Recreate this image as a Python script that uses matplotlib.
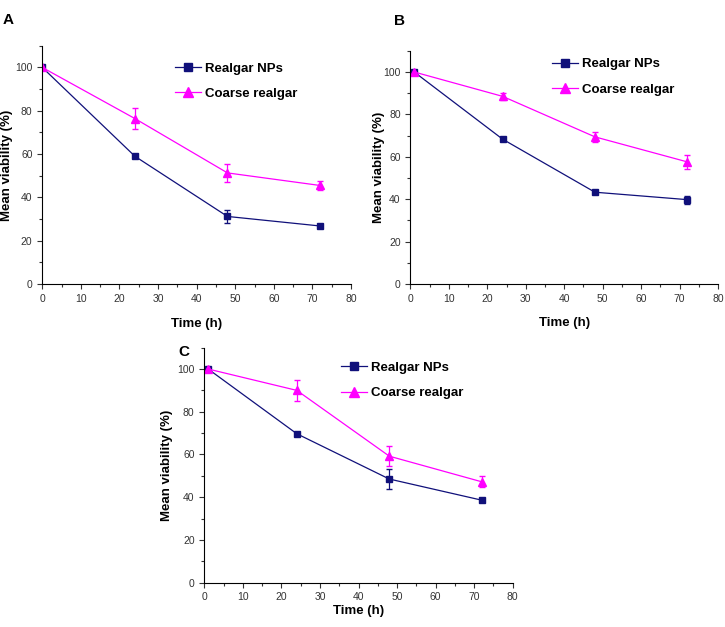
import numpy as np
import matplotlib
matplotlib.use('Agg')
import matplotlib.pyplot as plt
from matplotlib.ticker import MultipleLocator

plt.rcParams['font.family'] = ['Liberation Sans', 'DejaVu Sans']

# panel A
time_a = [0, 24, 48, 72]
nps_a = [100, 59, 31.2, 26.8]
nps_a_err = [0, 0.8, 3.1, 0.6]
coarse_a = [100, 76.4, 51.3, 45.5]
coarse_a_err = [0, 4.8, 4.3, 2.0]

# panel B
time_b = [1, 24, 48, 72]
nps_b = [100, 68.3, 43.3, 39.8]
nps_b_err = [0, 0.6, 0.6, 1.9]
coarse_b = [100, 88.5, 69.4, 57.6]
coarse_b_err = [0, 1.6, 2.5, 3.4]

# panel C
time_c = [1, 24, 48, 72]
nps_c = [100, 69.7, 48.5, 38.6]
nps_c_err = [0, 0.5, 4.7, 0.5]
coarse_c = [100, 90.0, 59.2, 47.2]
coarse_c_err = [0, 4.8, 4.6, 2.6]

navy = '#10107a'
magenta = '#ff00ff'

fig = plt.figure(figsize=(7.25, 6.27), dpi=100)

# letter, axes rect, data, legend anchor, letter pos, xlabel y, ylabel x
panels = [
    ('A', [0.0583, 0.547, 0.4258, 0.380], time_a, nps_a, nps_a_err, coarse_a, coarse_a_err,
     (0.43, 0.93), (0.003, 0.979), -0.143, -0.095),
    ('B', [0.566, 0.547, 0.4244, 0.372], time_b, nps_b, nps_b_err, coarse_b, coarse_b_err,
     (0.46, 0.969), (0.543, 0.977), -0.143, -0.084),
    ('C', [0.2818, 0.0707, 0.4254, 0.3748], time_c, nps_c, nps_c_err, coarse_c, coarse_c_err,
     (0.442, 0.94), (0.246, 0.4498), -0.095, -0.103),
]

for letter, rect, t, n, ne, c, ce, leg_xy, let_xy, xl_y, yl_x in panels:
    ax = fig.add_axes(rect)
    ax.errorbar(t, n, yerr=ne, fmt='none', ecolor=navy, capsize=2.5, elinewidth=0.9)
    ax.errorbar(t, c, yerr=ce, fmt='none', ecolor=magenta, capsize=2.5, elinewidth=0.9)
    ax.plot(t, n, color=navy, marker='s', markersize=4.8, lw=0.9, label='Realgar NPs')
    ax.plot(t, c, color=magenta, marker='^', markersize=5.8, lw=0.9, label='Coarse realgar')
    ax.set_xlim(0, 80)
    ax.set_ylim(0, 110)
    ax.set_xticks(np.arange(0, 81, 10))
    ax.set_yticks(np.arange(0, 101, 20))
    ax.xaxis.set_minor_locator(MultipleLocator(5))
    ax.yaxis.set_minor_locator(MultipleLocator(10))
    ax.spines['top'].set_visible(False)
    ax.spines['right'].set_visible(False)
    ax.tick_params(which='major', length=3.5, width=0.8, labelsize=7.5, colors='#333333', labelcolor='#333333')
    ax.tick_params(which='minor', length=2, width=0.8, colors='#333333')
    ax.set_xlabel('Time (h)', fontsize=9.5, fontweight='bold')
    ax.set_ylabel('Mean viability (%)', fontsize=9.5, fontweight='bold')
    ax.xaxis.set_label_coords(0.5, xl_y)
    ax.yaxis.set_label_coords(yl_x, 0.5)
    ax.legend(loc='upper left', bbox_to_anchor=leg_xy, frameon=False,
              prop={'weight': 'bold', 'size': 9.5}, handlelength=2.0, handletextpad=0.3,
              labelspacing=1.0, borderaxespad=0, borderpad=0, markerscale=1.2)
    fig.text(let_xy[0], let_xy[1], letter, fontsize=11, fontweight='bold', va='top')

fig.savefig('out.png', dpi=100)
